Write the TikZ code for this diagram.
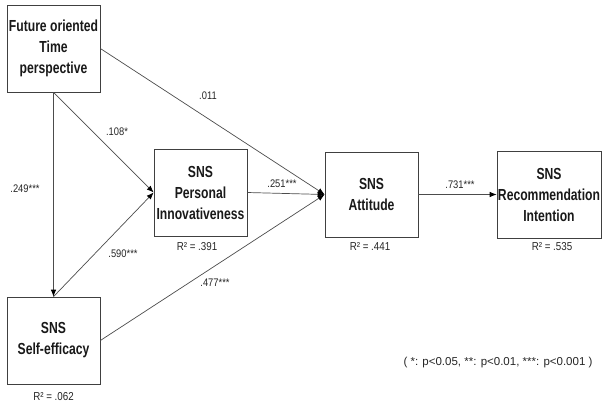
\documentclass[tikz,border=0pt]{standalone}
\usepackage{fontspec}
\setmainfont{Liberation Sans}
\newfontfamily\boxfont[FakeStretch=0.76]{Liberation Sans}
\newfontfamily\labfont[FakeStretch=0.85]{Liberation Sans}
\usetikzlibrary{arrows.meta}
\begin{document}
\begin{tikzpicture}[x=1pt,y=-1pt,
  box/.style={draw=black!75, line width=0.7pt, minimum width=93pt, minimum height=87pt,
    inner sep=0pt, align=center, text=black!90,
    font=\boxfont\bfseries\fontsize{16}{21}\selectfont},
  lab/.style={font=\labfont\fontsize{11}{13}\selectfont, text=black!85, inner sep=0pt},
  rsq/.style={font=\labfont\fontsize{11.5}{13}\selectfont, text=black!85, inner sep=0pt},
  legend/.style={font=\fontsize{11.5}{13}\selectfont, text=black!85, inner sep=0pt},
  conn/.style={draw=black!70, line width=0.7pt, -{Latex[length=7pt,width=5.5pt,fill=black,color=black]}}]
\useasboundingbox (0,0) rectangle (603,405);
% boxes
\node[box] (fotp) at (53.5,48.5) {Future oriented\\Time\\perspective};
\node[box] (se) at (53.5,340.5) {SNS\\Self-efficacy};
\node[box] (pi) at (200.5,192.5) {SNS\\Personal\\Innovativeness};
\node[box, minimum height=85pt] (att) at (371.5,194.5) {SNS\\Attitude};
\node[box, minimum width=104pt] (rec) at (549,194.5) {SNS\\Recommendation\\Intention};
% R squared
\node[rsq] (rse) at (53.5,397) {R² = .062};
\node[rsq] (rpi) at (197,247) {R² = .391};
\node[rsq] (ratt) at (370,247) {R² = .441};
\node[rsq] (rrec) at (552,247) {R² = .535};
% connectors
\draw[conn] (fotp.south) -- (se.north);
\draw[conn] (fotp.south) -- (pi.west);
\draw[conn] (se.north) -- (pi.west);
\draw[conn] (fotp.east) -- (att.west);
\draw[conn] (pi.east) -- (att.west);
\draw[conn] (se.east) -- (att.west);
\draw[conn] (att.east) -- (rec.west);
% path labels
\node[lab] (l011) at (208,96) {.011};
\node[lab] (l108) at (117,132) {.108*};
\node[lab] (l249) at (25,189) {.249***};
\node[lab] (l590) at (123,254) {.590***};
\node[lab] (l251) at (282,184) {.251***};
\node[lab] (l477) at (215,283) {.477***};
\node[lab] (l731) at (460,185) {.731***};
% legend
\node[legend] (leg) at (498,363) {( *: p<0.05, **: p<0.01, ***: p<0.001 )};
\end{tikzpicture}
\end{document}
